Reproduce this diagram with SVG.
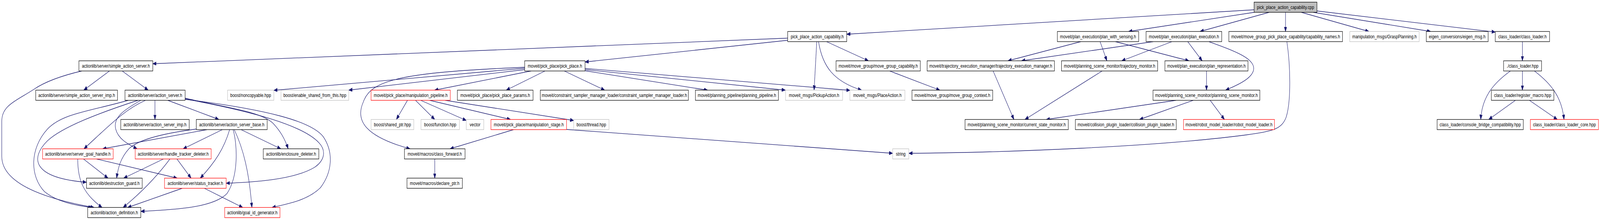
<svg xmlns="http://www.w3.org/2000/svg" width="5393" height="560" viewBox="0 0 5393 560" preserveAspectRatio="none" style="width:100vw;max-width:5393px;height:560px;display:block">
<defs>
<style>
.n rect{fill:#ffffff;stroke:#000000;stroke-width:1.3}
.n.g rect{stroke:#bfbfbf}
.n.r rect{stroke:#ff0000}
.n.root rect{fill:#bfbfbf}
.n text{font-family:"Liberation Sans",Arial,sans-serif;font-size:13.3px;text-anchor:middle;fill:#000000}
#edges path{fill:none;stroke:#191970;stroke-width:1.3;marker-end:url(#a)}
</style>
<marker id="a" markerUnits="userSpaceOnUse" markerWidth="13" markerHeight="10" refX="12" refY="4.5" orient="auto">
<path d="M0,0 L12,4.5 L0,9 z" fill="#191970" stroke="#191970" stroke-width="1"/>
</marker>
</defs>
<rect x="0" y="0" width="5393" height="560" fill="#ffffff"/>
<g id="edges">
<path d="M4227,25 L2854,87.5"/>
<path d="M4228,31.5 L3804,80.5"/>
<path d="M4278,31.5 L4045,80.5"/>
<path d="M4333,31.5 L4333,80.5"/>
<path d="M4386,31.5 L4614,80.5"/>
<path d="M4426,31.5 L4822,80.5"/>
<path d="M4439,28 L5040,82"/>
<path d="M2655,97.5 L515,163"/>
<path d="M2655,103 L1972,158.5"/>
<path d="M2753,106.5 L2744,230.5"/>
<path d="M2759,106.5 C2772,170 2810,208 2904,230.5"/>
<path d="M2786,106.5 L2927,155.5"/>
<path d="M1972,175 L2865,231"/>
<path d="M1972,178 L2647,230.5"/>
<path d="M1972,181 L2385,230.5"/>
<path d="M1902,181.5 L2038,230.5"/>
<path d="M1837,181.5 L1706.5,230.5"/>
<path d="M1790,181.5 L1465,230.5"/>
<path d="M1768.5,178 L1175.5,230.5"/>
<path d="M1768.5,174.5 L923,231"/>
<path d="M1768.5,172 C1350,185 1250,205 1225,260 C1195,310 1235,350 1382,380.5"/>
<path d="M1373.5,256.5 L1336,305.5"/>
<path d="M1400.5,256.5 L1465.4,305.5"/>
<path d="M1418,256.5 L1571.6,308"/>
<path d="M1448,256.5 L1720.8,305.5"/>
<path d="M1500,256.5 L1933.7,308"/>
<path d="M1731,331.5 L1517,380.5"/>
<path d="M1909.6,331 L3008.8,392"/>
<path d="M1465.4,406.5 L1465.4,455.5"/>
<path d="M369,181.5 L282.4,230.5"/>
<path d="M412,181.5 L499.4,230.5"/>
<path d="M275.5,181.5 C200,195 150,210 115,228 C50,260 6,270 6,310 L6,400 C6,480 200,515 317,530.5"/>
<path d="M522.3,256.5 L522.3,305.5"/>
<path d="M565.4,256.5 L737.6,305.5"/>
<path d="M490.5,256.5 C420,280 370,320 283,380.5"/>
<path d="M474.6,256.5 C420,280 380,300 390,330 C398,355 430,368 462,380.5"/>
<path d="M465,256.5 C330,290 210,325 160,360 C100,405 110,455 291,466"/>
<path d="M432.5,256.5 C300,285 210,290 160,330 C100,380 100,450 150,490 C190,515 250,525 310,530.5"/>
<path d="M624,251 C760,275 880,285 920,315 C945,335 960,355 971.4,380.5"/>
<path d="M624,253 C850,285 1020,320 1075,365 C1100,385 1095,410 1060,428 C990,460 850,466 762.5,468.5"/>
<path d="M624,254 C900,280 1050,310 1090,350 C1125,390 1120,440 1080,480 C1040,510 980,520 917,530.5"/>
<path d="M697.4,331.5 L346,380.5"/>
<path d="M661.6,330 C560,340 470,355 435,380 C405,405 398,430 393,455.5"/>
<path d="M749.4,331.5 L617.4,380.5"/>
<path d="M774,331.5 C755,380 725,415 675,455.5"/>
<path d="M785.8,331.5 C800,370 805,450 765,495 C720,530 600,536 474.7,540.5"/>
<path d="M789.6,331.5 C820,380 840,440 849,530.5"/>
<path d="M812.6,331.5 L946.5,380.5"/>
<path d="M281.3,406.5 L364,455.5"/>
<path d="M325.3,406.5 L597,455.5"/>
<path d="M262,406.5 C262,460 280,495 344,530.5"/>
<path d="M551,406.5 L417,455.5"/>
<path d="M572.8,406.5 C530,450 480,490 415,530.5"/>
<path d="M596.4,406.5 L644,455.5"/>
<path d="M614.2,481.5 L430.5,530.5"/>
<path d="M688.8,481.5 L818,530.5"/>
<path d="M3643,106.5 L3397.4,155.5"/>
<path d="M3887,106.5 L3443,155.5"/>
<path d="M3708,106.5 L3731,155.5"/>
<path d="M3759.6,106.5 L4007.5,155.5"/>
<path d="M3950,106.5 L3781,155.5"/>
<path d="M4003.5,106.5 L4052,155.5"/>
<path d="M4075,106.5 C4160,130 4235,150 4225,180 C4218,200 4180,215 4131,230.5"/>
<path d="M3714.8,181.5 L3454.8,305.5"/>
<path d="M3347.5,181.5 L3417.5,305.5"/>
<path d="M3964.5,256.5 L3526.6,305.5"/>
<path d="M4022,256.5 L3841,305.5"/>
<path d="M4079,256.5 L4127,305.5"/>
<path d="M4066.7,181.5 L4066.7,230.5"/>
<path d="M2998.5,181.5 L3167.8,230.5"/>
<path d="M4337.6,106.5 C4350,170 4352,260 4335,300 C4320,330 4290,336 4200,345 C3900,375 3400,390 3063.3,392"/>
<path d="M5131.5,106.5 L5131.5,155.5"/>
<path d="M5131.5,181.5 L5131.5,230.5"/>
<path d="M5091,181.5 C5030,215 4995,250 4991,305.5"/>
<path d="M5172,181.5 C5230,215 5265,250 5271.6,305.5"/>
<path d="M5108,256.5 L5018,305.5"/>
<path d="M5155,256.5 L5249,305.5"/>
</g>
<g id="n_root" class="n root"><rect x="4227" y="5.5" width="212" height="26"/><text x="4333" y="23">pick_place_action_capability.cpp</text></g>
<g id="n_ppac_h" class="n"><rect x="2655" y="80.5" width="199" height="26"/><text x="2754.5" y="98">pick_place_action_capability.h</text></g>
<g id="n_pws" class="n"><rect x="3564" y="80.5" width="274" height="26"/><text x="3701" y="98">moveit/plan_execution/plan_with_sensing.h</text></g>
<g id="n_pe" class="n"><rect x="3863" y="80.5" width="255" height="26"/><text x="3990.5" y="98">moveit/plan_execution/plan_execution.h</text></g>
<g id="n_capnames" class="n"><rect x="4142" y="80.5" width="383" height="26"/><text x="4333.5" y="98">moveit/move_group_pick_place_capability/capability_names.h</text></g>
<g id="n_grasp" class="n g"><rect x="4549.5" y="80.5" width="234" height="26"/><text x="4666.5" y="98">manipulation_msgs/GraspPlanning.h</text></g>
<g id="n_eigen" class="n"><rect x="4807.5" y="80.5" width="208.5" height="26"/><text x="4911.75" y="98">eigen_conversions/eigen_msg.h</text></g>
<g id="n_clh" class="n"><rect x="5040" y="80.5" width="183" height="26"/><text x="5131.5" y="98">class_loader/class_loader.h</text></g>
<g id="n_sas" class="n"><rect x="266" y="155.5" width="249" height="26"/><text x="390.5" y="173">actionlib/server/simple_action_server.h</text></g>
<g id="n_pp" class="n"><rect x="1768.5" y="155.5" width="203.5" height="26"/><text x="1870.25" y="173">moveit/pick_place/pick_place.h</text></g>
<g id="n_mgcap" class="n"><rect x="2818" y="155.5" width="284" height="26"/><text x="2960" y="173">moveit/move_group/move_group_capability.h</text></g>
<g id="n_tem" class="n"><rect x="3125" y="155.5" width="429" height="26"/><text x="3339.5" y="173">moveit/trajectory_execution_manager/trajectory_execution_manager.h</text></g>
<g id="n_tm" class="n"><rect x="3578" y="155.5" width="324" height="26"/><text x="3740" y="173">moveit/planning_scene_monitor/trajectory_monitor.h</text></g>
<g id="n_prep" class="n"><rect x="3926.5" y="155.5" width="280" height="26"/><text x="4066.5" y="173">moveit/plan_execution/plan_representation.h</text></g>
<g id="n_clhpp" class="n"><rect x="5068" y="155.5" width="128" height="26"/><text x="5132" y="173">./class_loader.hpp</text></g>
<g id="n_sasimp" class="n"><rect x="120.5" y="230.5" width="275.5" height="26"/><text x="258.25" y="248">actionlib/server/simple_action_server_imp.h</text></g>
<g id="n_as" class="n"><rect x="421.3" y="230.5" width="202.7" height="26"/><text x="522.65" y="248">actionlib/server/action_server.h</text></g>
<g id="n_noncopy" class="n g"><rect x="767" y="230.5" width="156" height="26"/><text x="845" y="248">boost/noncopyable.hpp</text></g>
<g id="n_esft" class="n g"><rect x="947" y="230.5" width="228.5" height="26"/><text x="1061.25" y="248">boost/enable_shared_from_this.hpp</text></g>
<g id="n_mpipe" class="n r"><rect x="1250.7" y="230.5" width="267" height="26"/><text x="1384.2" y="248">moveit/pick_place/manipulation_pipeline.h</text></g>
<g id="n_ppparams" class="n"><rect x="1541.7" y="230.5" width="255" height="26"/><text x="1669.2" y="248">moveit/pick_place/pick_place_params.h</text></g>
<g id="n_csml" class="n"><rect x="1821.2" y="230.5" width="499" height="26"/><text x="2070.7" y="248">moveit/constraint_sampler_manager_loader/constraint_sampler_manager_loader.h</text></g>
<g id="n_ppipe" class="n"><rect x="2344" y="230.5" width="279.7" height="26"/><text x="2483.85" y="248">moveit/planning_pipeline/planning_pipeline.h</text></g>
<g id="n_pickup" class="n g"><rect x="2647.8" y="230.5" width="192.2" height="26"/><text x="2743.9" y="248">moveit_msgs/PickupAction.h</text></g>
<g id="n_place" class="n g"><rect x="2864.7" y="230.5" width="185.4" height="26"/><text x="2957.4" y="248">moveit_msgs/PlaceAction.h</text></g>
<g id="n_mgctx" class="n"><rect x="3074" y="230.5" width="272" height="26"/><text x="3210" y="248">moveit/move_group/move_group_context.h</text></g>
<g id="n_psm" class="n"><rect x="3886.4" y="230.5" width="360" height="26"/><text x="4066.4" y="248">moveit/planning_scene_monitor/planning_scene_monitor.h</text></g>
<g id="n_regmacro" class="n"><rect x="5026.8" y="230.5" width="210.7" height="26"/><text x="5132.15" y="248">class_loader/register_macro.hpp</text></g>
<g id="n_asimp" class="n"><rect x="407" y="305.5" width="230.7" height="26"/><text x="522.35" y="323">actionlib/server/action_server_imp.h</text></g>
<g id="n_asbase" class="n"><rect x="661.6" y="305.5" width="239" height="26"/><text x="781.1" y="323">actionlib/server/action_server_base.h</text></g>
<g id="n_sharedptr" class="n g"><rect x="1250.7" y="305.5" width="144" height="26"/><text x="1322.7" y="323">boost/shared_ptr.hpp</text></g>
<g id="n_function" class="n g"><rect x="1419" y="305.5" width="129.6" height="26"/><text x="1483.8" y="323">boost/function.hpp</text></g>
<g id="n_vector" class="n g"><rect x="1571.6" y="305.5" width="59" height="26"/><text x="1601.1" y="323">vector</text></g>
<g id="n_mstage" class="n r"><rect x="1654.8" y="305.5" width="254.8" height="26"/><text x="1782.2" y="323">moveit/pick_place/manipulation_stage.h</text></g>
<g id="n_thread" class="n g"><rect x="1933.7" y="305.5" width="119" height="26"/><text x="1993.2" y="323">boost/thread.hpp</text></g>
<g id="n_csm" class="n"><rect x="3252.8" y="305.5" width="348" height="26"/><text x="3426.8" y="323">moveit/planning_scene_monitor/current_state_monitor.h</text></g>
<g id="n_cpl" class="n"><rect x="3624.7" y="305.5" width="340" height="26"/><text x="3794.7" y="323">moveit/collision_plugin_loader/collision_plugin_loader.h</text></g>
<g id="n_rml" class="n r"><rect x="3989.2" y="305.5" width="306.5" height="26"/><text x="4142.45" y="323">moveit/robot_model_loader/robot_model_loader.h</text></g>
<g id="n_cbc" class="n"><rect x="4844" y="305.5" width="290.4" height="26"/><text x="4989.2" y="323">class_loader/console_bridge_compatibility.hpp</text></g>
<g id="n_clcore" class="n r"><rect x="5158.3" y="305.5" width="229.5" height="26"/><text x="5273.05" y="323">class_loader/class_loader_core.hpp</text></g>
<g id="n_sgh" class="n r"><rect x="143.5" y="380.5" width="238" height="26"/><text x="262.5" y="398">actionlib/server/server_goal_handle.h</text></g>
<g id="n_htd" class="n r"><rect x="455.7" y="380.5" width="256" height="26"/><text x="583.7" y="398">actionlib/server/handle_tracker_deleter.h</text></g>
<g id="n_encl" class="n"><rect x="887.4" y="380.5" width="187.2" height="26"/><text x="981" y="398">actionlib/enclosure_deleter.h</text></g>
<g id="n_cfwd" class="n"><rect x="1363.2" y="380.5" width="204.3" height="26"/><text x="1465.35" y="398">moveit/macros/class_forward.h</text></g>
<g id="n_string" class="n g"><rect x="3008.8" y="380.5" width="54.5" height="26"/><text x="3036.05" y="398">string</text></g>
<g id="n_dguard" class="n"><rect x="291.6" y="455.5" width="187.7" height="26"/><text x="385.45" y="473">actionlib/destruction_guard.h</text></g>
<g id="n_stracker" class="n r"><rect x="554.5" y="455.5" width="207.8" height="26"/><text x="658.4" y="473">actionlib/server/status_tracker.h</text></g>
<g id="n_declptr" class="n"><rect x="1371.8" y="455.5" width="186.6" height="26"/><text x="1465.1" y="473">moveit/macros/declare_ptr.h</text></g>
<g id="n_adef" class="n"><rect x="295.6" y="530.5" width="179" height="26"/><text x="385.1" y="548">actionlib/action_definition.h</text></g>
<g id="n_goalid" class="n r"><rect x="757.3" y="530.5" width="186.4" height="26"/><text x="850.5" y="548">actionlib/goal_id_generator.h</text></g>
</svg>
